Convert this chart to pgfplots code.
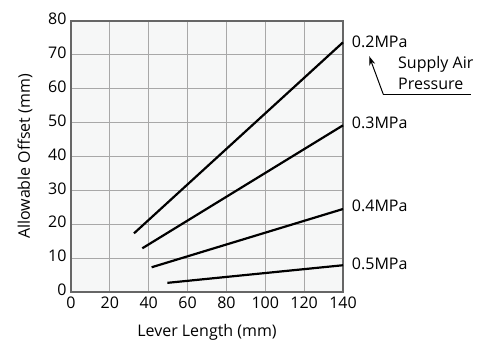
\documentclass[border=0pt]{standalone}
\usepackage{fontspec}
\setmainfont{Open Sans}
\usepackage{pgfplots}
\pgfplotsset{compat=1.18}
\usetikzlibrary{arrows.meta}
\definecolor{bgc}{HTML}{F6F7F7}
\definecolor{gridc}{HTML}{A8A8A8}
\definecolor{framec}{HTML}{666666}
\newcommand{\fs}{\fontsize{16}{18}\selectfont}
\begin{document}
\begin{tikzpicture}[x=1pt,y=1pt]
\useasboundingbox (0,0) rectangle (485,342);
\begin{axis}[
  at={(71pt,50pt)}, anchor=south west,
  scale only axis, width=272pt, height=271pt,
  xmin=0, xmax=140, ymin=0, ymax=80,
  xtick={0,20,...,140}, ytick={0,10,...,80},
  grid=major,
  major grid style={gridc, line width=1pt},
  axis line style={framec, line width=1.8pt},
  axis background/.style={fill=bgc},
  tick style={draw=none},
  ticklabel style={font=\fs},
  /pgf/number format/assume math mode=true,
  xlabel={Lever Length (mm)}, ylabel={Allowable Offset (mm)},
  label style={font=\fs},
  xlabel style={at={(axis description cs:0.5,0)}, anchor=center, yshift=-40pt},
  ylabel style={at={(axis description cs:0,0.5)}, anchor=center, yshift=46pt},
  yticklabel style={xshift=-1pt, yshift=2pt},
  xticklabel style={yshift=-1pt},
  clip=false,
]
\addplot[black, line width=2.2pt] coordinates {(32.4,17.3) (140,73.7)};
\addplot[black, line width=2.2pt] coordinates {(36.7,12.9) (140,49.2)};
\addplot[black, line width=2.2pt] coordinates {(41.5,7.3) (140,24.5)};
\addplot[black, line width=2.2pt] coordinates {(49.6,2.7) (140,7.9)};
\node[anchor=west, font=\fs, inner sep=0pt] at (axis cs:144.5,74.0) {0.2MPa};
\node[anchor=west, font=\fs, inner sep=0pt] at (axis cs:144.5,49.9) {0.3MPa};
\node[anchor=west, font=\fs, inner sep=0pt] at (axis cs:144.5,25.3) {0.4MPa};
\node[anchor=west, font=\fs, inner sep=0pt] at (axis cs:144.5,8.4) {0.5MPa};
\node[anchor=west, font=\fs, inner sep=0pt] at (axis cs:168.3,67.1) {Supply Air};
\node[anchor=west, font=\fs, inner sep=0pt] at (axis cs:168.3,61.4) {Pressure};
\draw[black, line width=1pt] (axis cs:205.7,58.4) -- (axis cs:160.7,58.4);
\draw[black, line width=1pt, -{Stealth[length=9pt,width=6pt]}] (axis cs:160.7,58.4) -- (axis cs:153.5,69.6);
\end{axis}
\end{tikzpicture}
\end{document}
